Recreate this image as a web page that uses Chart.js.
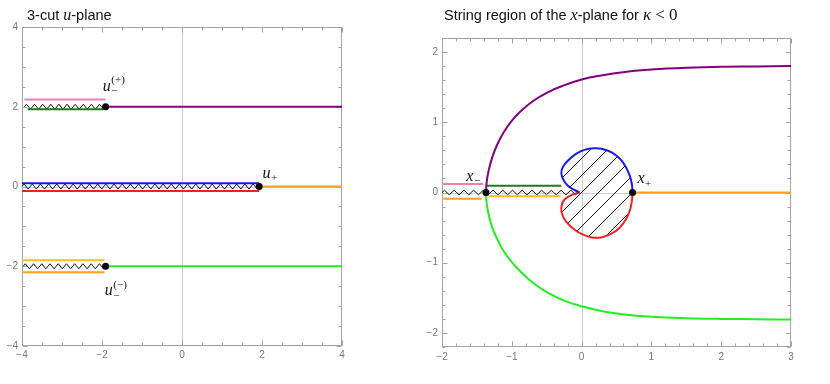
<!DOCTYPE html>
<html lang="en">
<head>
  <meta charset="UTF-8">
  <title>3-cut u-plane / string region of the x-plane</title>
  <script src="https://cdn.jsdelivr.net/npm/chart.js"></script>
  <style>
    body { margin: 0; background: #fff; width: 830px; height: 384px; position: relative; overflow: hidden; }
    .panel { position: absolute; top: 0; }
    .title { position: absolute; font-family: "Liberation Sans", Arial, sans-serif; font-size: 14.5px; color: #111; white-space: nowrap; }
    .title .m { font-family: "Liberation Serif", serif; font-size: 16px; }
    .title .k { font-family: "Liberation Serif", serif; font-size: 17px; }
  </style>
</head>
<body>
  <div class="panel" style="left:0"><canvas id="uPlane" width="360" height="384"></canvas></div>
  <div class="panel" style="left:400px"><canvas id="xPlane" width="430" height="384"></canvas></div>
  <div class="title" style="left:27px; top:6px">3-cut <i class="m">u</i>-plane</div>
  <div class="title" style="left:444px; top:5px">String region of the <i class="m">x</i>-plane for <i class="k">κ</i> <span class="k">&lt; 0</span></div>

  <script>
    // ---- left panel: 3-cut u-plane ----
    const uBranchX = [-1.91, 1.93, -1.91];   // branch points u_-^(+), u_+, u_-^(-)
    const uCutY = [2, 0, -2];
    const uCutFromX = [-3.94, -4, -3.97];
    const uAboveY = [2.18, 0.08, -1.85];
    const uAboveFromX = [-3.94, -4, -3.97];
    const uAboveToX = [-1.91, 1.93, -1.94];
    const uBelowY = [1.935, -0.11, -2.15];
    const uBelowFromX = [-3.86, -4, -3.97];
    const uBelowToX = [-1.97, 1.93, -1.94];
    const uRayToX = [4, 4, 4];
    const uLabelX = [-1.88, 2.11, -1.83];
    const uLabelY = [2.51, 0.33, -2.62];
    const uLabelSub = ['\u2212', '+', '\u2212'];
    const uLabelSup = ['(+)', '', '(\u2212)'];

    // ---- right panel: x-plane ----
    const purpleX = [-1.37, -1.36, -1.33, -1.28, -1.21, -1.12, -1.01, -0.87, -0.70, -0.50, -0.27, 0, 0.30, 0.65, 1.0, 1.5, 2.0, 2.5, 3.0];
    const purpleY = [0, 0.15, 0.32, 0.50, 0.68, 0.85, 1.01, 1.16, 1.30, 1.42, 1.52, 1.61, 1.67, 1.72, 1.75, 1.775, 1.79, 1.795, 1.80];
    const greenX = [-1.37, -1.36, -1.33, -1.28, -1.21, -1.12, -1.00, -0.85, -0.68, -0.48, -0.25, 0, 0.30, 0.65, 1.0, 1.5, 2.0, 2.5, 3.0];
    const greenY = [0, -0.15, -0.32, -0.50, -0.66, -0.83, -0.99, -1.15, -1.30, -1.43, -1.54, -1.62, -1.69, -1.74, -1.77, -1.79, -1.80, -1.805, -1.81];
    const blueX = [0.73, 0.72, 0.69, 0.63, 0.55, 0.43, 0.30, 0.18, 0.05, -0.08, -0.19, -0.27, -0.29, -0.26, -0.20, -0.11, -0.03];
    const blueY = [0, 0.12, 0.24, 0.37, 0.48, 0.57, 0.62, 0.63, 0.61, 0.55, 0.46, 0.36, 0.27, 0.18, 0.10, 0.04, 0];
    const redX = [0.73, 0.72, 0.69, 0.63, 0.54, 0.42, 0.28, 0.15, 0.02, -0.10, -0.21, -0.28, -0.29, -0.26, -0.19, -0.10, -0.03];
    const redY = [0, -0.12, -0.26, -0.39, -0.51, -0.59, -0.64, -0.64, -0.60, -0.53, -0.43, -0.31, -0.21, -0.12, -0.06, -0.02, 0];
    const xBranchX = [-1.37, 0.73];          // x_-, x_+
    const xCutFromX = -2, xCutToX = -0.05;
    const pinkSeg = [-2, -1.41, 0.12];        // from, to, height
    const orangeSeg = [-1.98, -1.43, -0.09];
    const dkGreenSeg = [-1.36, -0.29, 0.095];
    const amberSeg = [-1.33, -0.30, -0.055];
    const xRayX = [0.73, 3];
    const xLabelX = [-1.6, 0.85];
    const xLabelY = [0.23, 0.19];
    const xLabelSub = ['\u2212', '+'];

    const PINK = '#f07cbc', DKGREEN = '#1e7b1e', PURPLE = '#800080', ORANGE = '#ffa01a',
          AMBER = '#ffbb1a', BLUE = '#1a1aee', RED = '#ee2222', GREEN = '#22ee22';

    const pts = (xs, ys) => xs.map((x, i) => ({ x: x, y: ys[i] }));
    const seg = (x0, x1, y) => [{ x: x0, y: y }, { x: x1, y: y }];

    function lineSet(data, color, tension) {
      return { data: data, showLine: true, borderColor: color, borderWidth: 2,
               pointRadius: 0, tension: tension || 0, fill: false };
    }

    function dotSet(data) {
      return { data: data, showLine: false, pointRadius: 3.5, pointHoverRadius: 3.5,
               backgroundColor: '#000', borderWidth: 0 };
    }

    function isMajor(v, step) {
      return Math.abs(v / step - Math.round(v / step)) < 1e-6;
    }

    function fmt(v, step) {
      if (!isMajor(v, step)) return '';
      const r = Math.round(v);
      return r < 0 ? '\u2212' + Math.abs(r) : String(r);
    }

    // frame with inward ticks on all sides, zero axes and branch-cut zigzags
    const framePlugin = {
      id: 'frame',
      beforeDatasetsDraw(chart, args, opts) {
        const { ctx, chartArea: a, scales: { x, y } } = chart;
        ctx.save();
        ctx.lineWidth = 1;
        const stroke = (x0, y0, x1, y1) => { ctx.beginPath(); ctx.moveTo(x0, y0); ctx.lineTo(x1, y1); ctx.stroke(); };

        ctx.strokeStyle = '#cccccc';
        const zx = Math.round(x.getPixelForValue(0)) + 0.5;
        const zy = Math.round(y.getPixelForValue(0)) + 0.5;
        stroke(zx, a.top, zx, a.bottom);
        stroke(a.left, zy, a.right, zy);

        ctx.strokeStyle = '#a3a3a3';
        const L = Math.round(a.left) + 0.5, R = Math.round(a.right) - 0.5;
        const T = Math.round(a.top) + 0.5, B = Math.round(a.bottom) - 0.5;
        ctx.strokeRect(L, T, R - L, B - T);
        x.ticks.forEach(t => {
          const p = Math.round(x.getPixelForValue(t.value)) + 0.5;
          const len = isMajor(t.value, opts.xMajor) ? 5 : 3;
          stroke(p, B, p, B - len);
          stroke(p, T, p, T + len);
        });
        y.ticks.forEach(t => {
          const p = Math.round(y.getPixelForValue(t.value)) + 0.5;
          const len = isMajor(t.value, opts.yMajor) ? 5 : 3;
          stroke(L, p, L + len, p);
          stroke(R, p, R - len, p);
        });

        // zigzag cuts
        ctx.strokeStyle = '#111';
        ctx.lineWidth = 1;
        opts.cuts.forEach(c => {
          const p0 = x.getPixelForValue(c[0]), p1 = x.getPixelForValue(c[1]);
          const py = y.getPixelForValue(c[2]);
          const n = Math.max(1, Math.round((p1 - p0) / opts.period));
          const step = (p1 - p0) / n;
          ctx.beginPath();
          ctx.moveTo(p0, py);
          for (let i = 0; i < n; i++) {
            ctx.lineTo(p0 + (i + 0.25) * step, py - opts.amp);
            ctx.lineTo(p0 + (i + 0.75) * step, py + opts.amp);
          }
          ctx.lineTo(p1, py);
          ctx.stroke();
        });
        ctx.restore();
      },
      afterDatasetsDraw(chart, args, opts) {
        const { ctx, scales: { x, y } } = chart;
        ctx.save();
        ctx.fillStyle = '#111';
        ctx.textBaseline = 'middle';
        opts.labels.forEach(l => {
          const px = x.getPixelForValue(l.x), py = y.getPixelForValue(l.y);
          ctx.font = 'italic 16px "Liberation Serif", serif';
          ctx.textAlign = 'center';
          ctx.fillText(l.main, px, py);
          const sx = px + ctx.measureText(l.main).width / 2 + 0.5;
          ctx.textAlign = 'left';
          ctx.font = '11px "Liberation Serif", serif';
          if (l.sup) ctx.fillText(l.sup, sx, py - 6);
          if (l.sub) ctx.fillText(l.sub, sx, py + 5);
        });
        ctx.restore();
      }
    };

    function axis(min, max, step, labelStep, width, height, pad) {
      return {
        type: 'linear', min: min, max: max,
        grid: { display: false, drawTicks: false },
        border: { display: false },
        ticks: { stepSize: step, autoSkip: false, maxRotation: 0, padding: pad,
                 color: '#777', font: { family: '"Liberation Sans", Arial, sans-serif', size: 10 },
                 callback: v => fmt(v, labelStep) },
        afterFit: s => { if (width != null) s.width = width; if (height != null) s.height = height; }
      };
    }

    // hatch pattern for the excluded region
    function hatch() {
      const c = document.createElement('canvas');
      c.width = 17; c.height = 17;
      const g = c.getContext('2d');
      g.strokeStyle = '#111';
      g.lineWidth = 1;
      g.beginPath();
      g.moveTo(-1, 18); g.lineTo(18, -1);
      g.moveTo(-1, 1); g.lineTo(1, -1);
      g.moveTo(16, 18); g.lineTo(18, 16);
      g.stroke();
      return g.createPattern(c, 'repeat');
    }

    const common = { responsive: false, animation: false, events: [],
                     plugins: { legend: { display: false }, tooltip: { enabled: false } } };

    // left chart
    const uSets = [dotSet(pts(uBranchX, uCutY))];
    const aboveColors = [PINK, BLUE, AMBER], belowColors = [DKGREEN, RED, ORANGE], rayColors = [PURPLE, ORANGE, GREEN];
    uCutY.forEach((cy, i) => {
      uSets.push(lineSet(seg(uAboveFromX[i], uAboveToX[i], uAboveY[i]), aboveColors[i]));
      uSets.push(lineSet(seg(uBelowFromX[i], uBelowToX[i], uBelowY[i]), belowColors[i]));
      uSets.push(lineSet(seg(uBranchX[i], uRayToX[i], cy), rayColors[i]));
    });

    new Chart(document.getElementById('uPlane'), {
      type: 'scatter',
      data: { datasets: uSets },
      options: Object.assign({}, common, {
        layout: { padding: { left: 0, top: 27, right: 18, bottom: 0 } },
        scales: { x: axis(-4, 4, 0.5, 2, null, 38, 3), y: axis(-4, 4, 0.5, 2, 22, null, 4) },
        plugins: Object.assign({}, common.plugins, {
          frame: {
            xMajor: 2, yMajor: 2, period: 8.3, amp: 2.5,
            cuts: uCutY.map((cy, i) => [uCutFromX[i], uBranchX[i], cy]),
            labels: uLabelX.map((lx, i) => ({ x: lx, y: uLabelY[i], main: 'u', sub: uLabelSub[i], sup: uLabelSup[i] }))
          }
        })
      }),
      plugins: [framePlugin]
    });

    // right chart
    const blobPts = pts(blueX, blueY).concat(pts(redX, redY).reverse());
    const xSets = [
      dotSet(xBranchX.map(v => ({ x: v, y: 0 }))),
      lineSet(pts(purpleX, purpleY), PURPLE, 0.4),
      lineSet(pts(greenX, greenY), GREEN, 0.4),
      lineSet(pts(blueX, blueY), BLUE, 0.4),
      lineSet(pts(redX, redY), RED, 0.4),
      lineSet(seg(pinkSeg[0], pinkSeg[1], pinkSeg[2]), PINK),
      lineSet(seg(orangeSeg[0], orangeSeg[1], orangeSeg[2]), ORANGE),
      lineSet(seg(dkGreenSeg[0], dkGreenSeg[1], dkGreenSeg[2]), DKGREEN),
      lineSet(seg(amberSeg[0], amberSeg[1], amberSeg[2]), AMBER),
      lineSet(seg(xRayX[0], xRayX[1], 0), ORANGE),
      { data: blobPts, showLine: true, borderWidth: 0, borderColor: 'rgba(0,0,0,0)', pointRadius: 0,
        tension: 0.4, fill: 'shape', backgroundColor: hatch() }
    ];

    new Chart(document.getElementById('xPlane'), {
      type: 'scatter',
      data: { datasets: xSets },
      options: Object.assign({}, common, {
        layout: { padding: { left: 0, top: 38, right: 39, bottom: 0 } },
        scales: { x: axis(-2, 3, 0.2, 1, null, 37, 4), y: axis(-2.2, 2.2, 0.2, 1, 42, null, 4) },
        plugins: Object.assign({}, common.plugins, {
          filler: { propagate: false },
          frame: {
            xMajor: 1, yMajor: 1, period: 10, amp: 2.3,
            cuts: [[xCutFromX, xCutToX, 0]],
            labels: xLabelX.map((lx, i) => ({ x: lx, y: xLabelY[i], main: 'x', sub: xLabelSub[i] }))
          }
        })
      }),
      plugins: [framePlugin]
    });
  </script>
</body>
</html>
